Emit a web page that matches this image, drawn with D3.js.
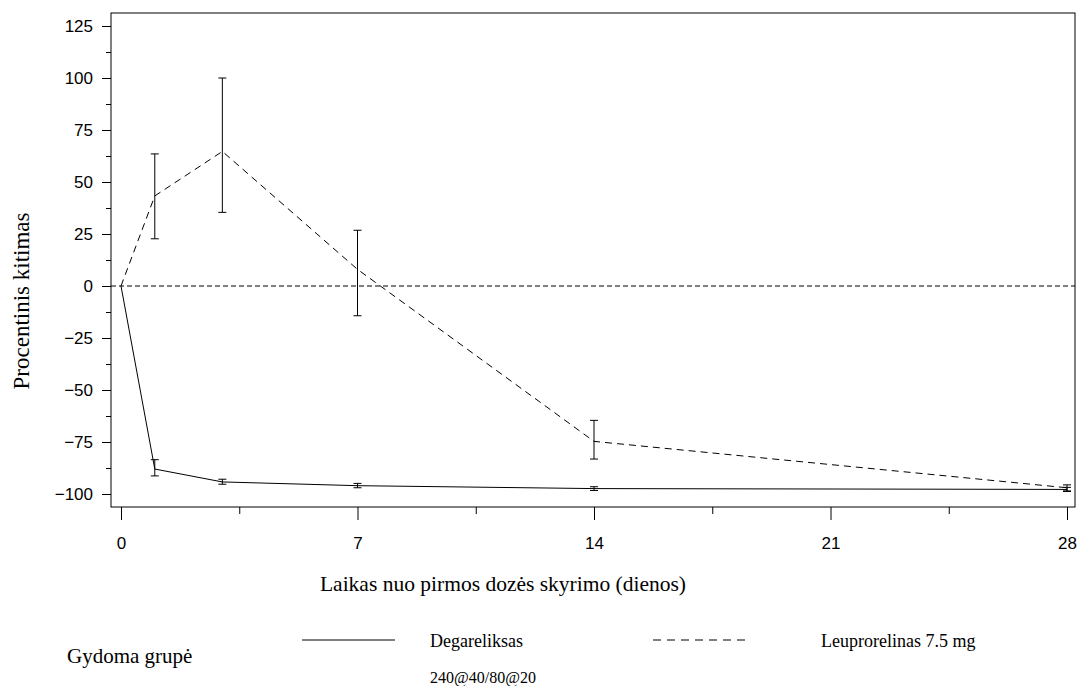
<!DOCTYPE html>
<html>
<head>
<meta charset="utf-8">
<script src="https://cdn.jsdelivr.net/npm/d3@7/dist/d3.min.js"></script>
<style>
  html, body { margin: 0; padding: 0; background: #fff; }
  svg { display: block; }
</style>
</head>
<body>
<svg id="chart" width="1078" height="686"></svg>
<script>
// ---- data ----
const days = [0, 1, 3, 7, 14, 28];
const degarelixMean = [0, -88, -94.2, -96, -97.4, -97.8];
const degarelixLow  = [null, -91.3, -95.3, -97.0, -98.3, -98.8];
const degarelixHigh = [null, -83.5, -92.9, -94.9, -96.5, -96.8];
const leuproMean = [0, 43.3, 64.7, 8.0, -74.7, -97.0];
const leuproLow  = [null, 22.7, 35.4, -14.3, -83.2, -98.5];
const leuproHigh = [null, 63.5, 100, 26.8, -64.6, -95.6];
const yMajor = [-100, -75, -50, -25, 0, 25, 50, 75, 100, 125];
const yMinor = [-87.5, -62.5, -37.5, -12.5, 12.5, 37.5, 62.5, 87.5, 112.5];
const xMajor = [0, 7, 14, 21, 28];
const xMinor = [3.5, 10.5, 17.5, 24.5];
const yTitle = "Procentinis kitimas";
const xTitle = "Laikas nuo pirmos dozės skyrimo (dienos)";
const legendTitle = "Gydoma grupė";
const seriesNames = ["Degareliksas", "Leuprorelinas 7.5 mg"];
const seriesSub = ["240@40/80@20", ""];

// ---- layout ----
const svg = d3.select("#chart");
const frame = { left: 111, right: 1075, top: 13, bottom: 507 };
const x = d3.scaleLinear().domain([0, 28]).range([121, 1067]);
const y = d3.scaleLinear().domain([-100, 125]).range([494, 26]);
const serif = "Liberation Serif, Times New Roman, serif";
const sans = "Liberation Sans, Arial, sans-serif";

// axes
const yAxisMajor = d3.axisLeft(y).tickValues(yMajor).tickSize(9).tickPadding(9)
  .tickFormat(d => d < 0 ? "\u2212" + Math.abs(d) : d);
const gy = svg.append("g").attr("transform", `translate(${frame.left},0)`).call(yAxisMajor);
gy.select(".domain").remove();
gy.selectAll("text").attr("font-family", sans).attr("font-size", 17).attr("fill", "#000");
gy.selectAll("line").attr("stroke", "#000");
const gy2 = svg.append("g").attr("transform", `translate(${frame.left},0)`)
  .call(d3.axisLeft(y).tickValues(yMinor).tickSize(5).tickFormat(""));
gy2.select(".domain").remove();
gy2.selectAll("line").attr("stroke", "#000");

const gx = svg.append("g").attr("transform", `translate(0,${frame.bottom})`)
  .call(d3.axisBottom(x).tickValues(xMajor).tickSize(13));
gx.select(".domain").remove();
gx.selectAll("text").attr("y", 36).attr("dy", "0.35em")
  .attr("font-family", sans).attr("font-size", 17).attr("fill", "#000");
gx.selectAll("line").attr("stroke", "#000");
const gx2 = svg.append("g").attr("transform", `translate(0,${frame.bottom})`)
  .call(d3.axisBottom(x).tickValues(xMinor).tickSize(7).tickFormat(""));
gx2.select(".domain").remove();
gx2.selectAll("line").attr("stroke", "#000");

// frame
svg.append("rect")
  .attr("x", frame.left).attr("y", frame.top)
  .attr("width", frame.right - frame.left).attr("height", frame.bottom - frame.top)
  .attr("fill", "none").attr("stroke", "#000").attr("stroke-width", 1);

// zero reference line
svg.append("line")
  .attr("x1", frame.left).attr("x2", frame.right)
  .attr("y1", y(0)).attr("y2", y(0))
  .attr("stroke", "#000").attr("stroke-width", 1).attr("stroke-dasharray", "5,3");

// series
const series = [
  { mean: degarelixMean, low: degarelixLow, high: degarelixHigh, dash: null },
  { mean: leuproMean, low: leuproLow, high: leuproHigh, dash: "7,5" }
];
const line = d3.line().x(d => x(d[0])).y(d => y(d[1]));
series.forEach(s => {
  const pts = days.map((d, i) => [d, s.mean[i]]);
  svg.append("path").datum(pts).attr("d", line)
    .attr("fill", "none").attr("stroke", "#000").attr("stroke-width", 1)
    .attr("stroke-dasharray", s.dash);
  const eb = days.map((d, i) => ({ d, lo: s.low[i], hi: s.high[i] })).filter(e => e.lo !== null);
  const g = svg.append("g").attr("stroke", "#000").attr("stroke-width", 1);
  g.selectAll(".v").data(eb).join("line")
    .attr("x1", e => x(e.d)).attr("x2", e => x(e.d))
    .attr("y1", e => y(e.lo)).attr("y2", e => y(e.hi));
  g.selectAll(".t").data(eb).join("line")
    .attr("x1", e => x(e.d) - 4).attr("x2", e => x(e.d) + 4)
    .attr("y1", e => y(e.hi)).attr("y2", e => y(e.hi));
  g.selectAll(".b").data(eb).join("line")
    .attr("x1", e => x(e.d) - 4).attr("x2", e => x(e.d) + 4)
    .attr("y1", e => y(e.lo)).attr("y2", e => y(e.lo));
});

// axis titles
svg.append("text")
  .attr("transform", `translate(29,301) rotate(-90)`)
  .attr("text-anchor", "middle")
  .attr("font-family", serif).attr("font-size", 23)
  .text(yTitle);
svg.append("text")
  .attr("x", 503).attr("y", 591)
  .attr("text-anchor", "middle")
  .attr("font-family", serif).attr("font-size", 21.5)
  .text(xTitle);

// legend
svg.append("text").attr("x", 67).attr("y", 663)
  .attr("font-family", serif).attr("font-size", 21).text(legendTitle);
const legendItems = [
  { lx: 302, tx: 430, dash: null },
  { lx: 653, tx: 821, dash: "8,6" }
];
legendItems.forEach((it, i) => {
  svg.append("line").attr("x1", it.lx).attr("x2", it.lx + 93)
    .attr("y1", 640).attr("y2", 640)
    .attr("stroke", "#000").attr("stroke-width", 1).attr("stroke-dasharray", it.dash);
  svg.append("text").attr("x", it.tx).attr("y", 647)
    .attr("font-family", serif).attr("font-size", 18).text(seriesNames[i]);
  if (seriesSub[i]) {
    svg.append("text").attr("x", it.tx).attr("y", 683)
      .attr("font-family", serif).attr("font-size", 16).text(seriesSub[i]);
  }
});
</script>
</body>
</html>
